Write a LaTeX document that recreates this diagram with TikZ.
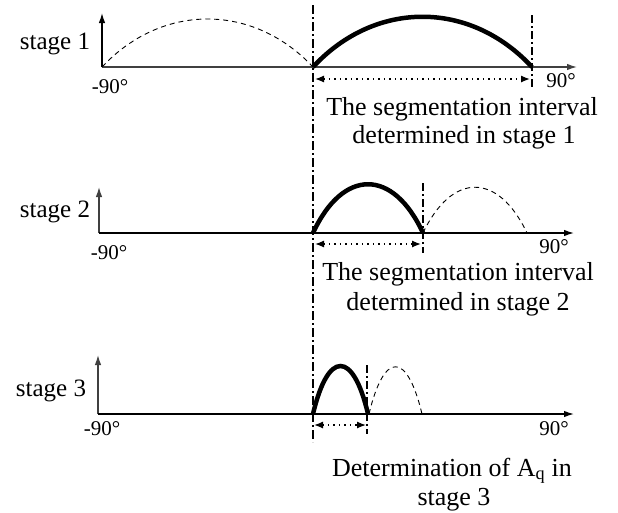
\documentclass[tikz,border=0pt]{standalone}
\usepackage{fontspec}
\setmainfont{Liberation Serif}
\usetikzlibrary{arrows.meta}
\tikzset{
  axisline/.style={line width=1.3pt,-{Latex[length=10pt,width=6.5pt]}},
  hump/.style={line width=4.5pt},
  ghost/.style={line width=0.9pt,dash pattern=on 5pt off 4pt},
  guide/.style={line width=1.8pt,dash pattern=on 9pt off 3pt on 2pt off 3pt},
  cut/.style={line width=1.6pt,dash pattern=on 8pt off 3pt on 2pt off 3pt},
  span/.style={line width=1.3pt,dash pattern=on 1.5pt off 4pt,{Latex[length=9pt,width=7pt]}-{Latex[length=9pt,width=7pt]}},
  stagelbl/.style={font=\fontsize{25}{28}\selectfont,anchor=base,inner sep=0pt},
  deglbl/.style={font=\fontsize{21}{24}\selectfont,anchor=base,inner sep=0pt},
  note/.style={font=\fontsize{26}{29}\selectfont,anchor=base,inner sep=0pt}
}
\begin{document}
\begin{tikzpicture}[x=1pt,y=-1pt]
\useasboundingbox (0,0) rectangle (618,512);
% ---------- main guide line
\coordinate (gtop) at (313,5);
\coordinate (gbot) at (313,442);
\draw[guide] (gtop) -- (gbot);

% ---------- stage 1
\coordinate (O1) at (102,67);
\coordinate (Y1) at (102,13);
\coordinate (X1) at (577,67);
\coordinate (A1) at (313,67);
\coordinate (B1) at (532,67);
\coordinate (c1t) at (532,15);
\coordinate (c1b) at (532,88);
\coordinate (s1a) at (315,79);
\coordinate (s1b) at (530,79);
\draw[axisline] (O1) -- (Y1);
\draw[axisline,draw=black!75] (O1) -- (X1);
\draw[ghost] (O1) .. controls +(60,-64) and +(-60,-64) .. (A1);
\draw[hump] (A1) .. controls +(62,-67) and +(-62,-67) .. (B1);
\draw[cut] (c1t) -- (c1b);
\draw[span] (s1a) -- (s1b);
\node[stagelbl] (st1) at (55,49) {stage 1};
\node[deglbl] (m1) at (110,93) {-90°};
\node[deglbl] (p1) at (561,87) {90°};
\node[note] (n1a) at (462,115) {The segmentation interval};
\node[note] (n1b) at (464,143) {determined in stage 1};

% ---------- stage 2
\coordinate (O2) at (99,233);
\coordinate (Y2) at (99,187);
\coordinate (X2) at (574,233);
\coordinate (A2) at (313,233);
\coordinate (B2) at (423,233);
\coordinate (E2) at (527,233);
\coordinate (c2t) at (423,183);
\coordinate (c2b) at (423,253);
\coordinate (s2a) at (315,244);
\coordinate (s2b) at (421,244);
\draw[axisline,draw=black!75] (O2) -- (Y2);
\draw[axisline] (O2) -- (X2);
\draw[hump] (A2) .. controls +(30,-65) and +(-30,-65) .. (B2);
\draw[ghost] (B2) .. controls +(29,-61) and +(-29,-61) .. (E2);
\draw[cut] (c2t) -- (c2b);
\draw[span] (s2a) -- (s2b);
\node[stagelbl] (st2) at (55,217) {stage 2};
\node[deglbl] (m2) at (109,259) {-90°};
\node[deglbl] (p2) at (554,253) {90°};
\node[note] (n2a) at (458,280) {The segmentation interval};
\node[note] (n2b) at (458,310) {determined in stage 2};

% ---------- stage 3
\coordinate (O3) at (98,414);
\coordinate (Y3) at (98,355);
\coordinate (X3) at (574,414);
\coordinate (A3) at (313,414);
\coordinate (B3) at (368,414);
\coordinate (D3) at (369,414);
\coordinate (E3) at (422,414);
\coordinate (c3t) at (367,365);
\coordinate (c3b) at (367,434);
\coordinate (s3a) at (314,425);
\coordinate (s3b) at (366,425);
\draw[axisline,draw=black!75] (O3) -- (Y3);
\draw[axisline] (O3) -- (X3);
\draw[hump] (A3) .. controls +(15,-64) and +(-15,-64) .. (B3);
\draw[ghost] (D3) .. controls +(15,-63) and +(-15,-63) .. (E3);
\draw[cut] (c3t) -- (c3b);
\draw[span] (s3a) -- (s3b);
\node[stagelbl] (st3) at (51,396) {stage 3};
\node[deglbl] (m3) at (102,435) {-90°};
\node[deglbl] (p3) at (554,435) {90°};
\node[note] (n3a) at (452,476) {Determination of A\textsubscript{q} in};
\node[note] (n3b) at (454,505) {stage 3};
\end{tikzpicture}
\end{document}
